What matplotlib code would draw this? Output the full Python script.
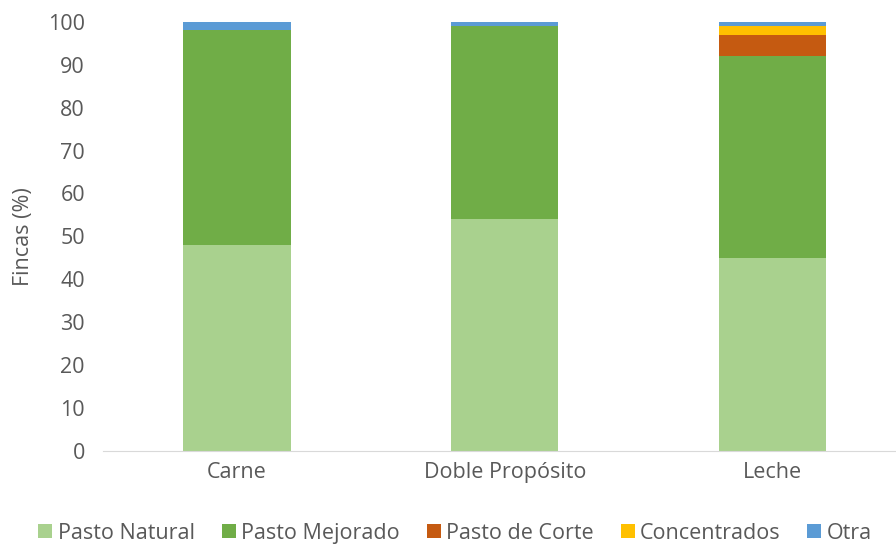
import numpy as np
import matplotlib.pyplot as plt

# tipo de finca y fuente de alimento (% de fincas)
categorias = ["Carne", "Doble Propósito", "Leche"]
pasto_natural = [48, 54, 45]
pasto_mejorado = [50, 45, 47]
pasto_corte = [0, 0, 5]
concentrados = [0, 0, 2]
otra = [2, 1, 1]

series = ["Pasto Natural", "Pasto Mejorado", "Pasto de Corte", "Concentrados", "Otra"]
colores = ["#A9D18E", "#70AD47", "#C55A11", "#FFC000", "#5B9BD5"]

plt.rcParams['font.family'] = ['Open Sans', 'DejaVu Sans']
gris = "#595959"

fig = plt.figure(figsize=(8.96, 5.44), dpi=100)
ax = fig.add_axes([0.115, 0.171, 0.897, 0.789])

x = np.arange(len(categorias))
base = np.zeros(len(categorias))
for nombre, vals, c in zip(series, [pasto_natural, pasto_mejorado, pasto_corte, concentrados, otra], colores):
    ax.bar(x, vals, width=0.4, bottom=base, color=c, label=nombre)
    base += np.array(vals)

ax.set_xlim(-0.5, 2.5)
ax.set_ylim(0, 100)
ax.set_yticks(range(0, 101, 10))
ax.set_xticks(x)
ax.set_xticklabels(categorias)
ax.tick_params(axis='both', length=0, labelsize=15.5, colors=gris)
ax.tick_params(axis='x', pad=8)
ax.tick_params(axis='y', pad=13)
ax.set_ylabel("Fincas (%)", fontsize=15.5, color=gris, labelpad=10)

for s in ["top", "right", "left"]:
    ax.spines[s].set_visible(False)
ax.spines["bottom"].set_color("#D9D9D9")

leg = fig.legend(loc="lower center", bbox_to_anchor=(0.508, -0.035), ncol=5, frameon=False,
                 fontsize=15.5, handlelength=0.65, handleheight=0.65, handletextpad=0.25,
                 columnspacing=1.25)
for t in leg.get_texts():
    t.set_color(gris)

plt.savefig("out.png", dpi=100)
